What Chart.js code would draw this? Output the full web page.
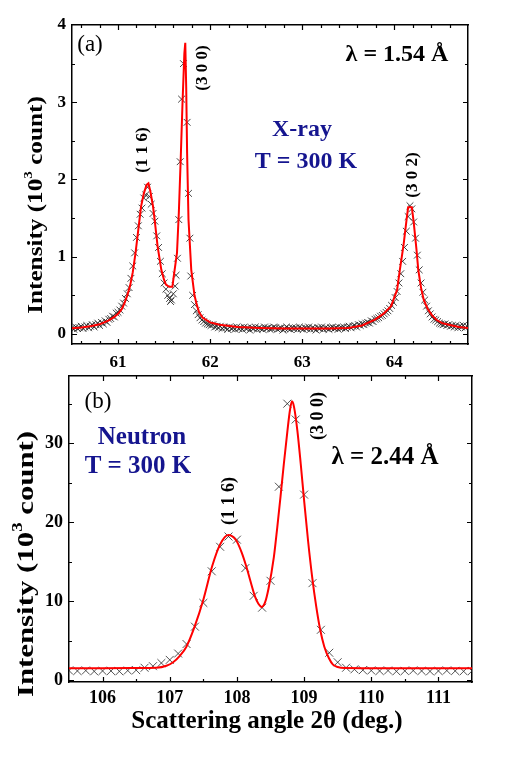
<!DOCTYPE html>
<html>
<head>
<meta charset="utf-8">
<script src="https://cdn.jsdelivr.net/npm/chart.js@4.4.1/dist/chart.umd.min.js"></script>
<style>
  html, body { margin: 0; padding: 0; background: #fff; }
  #wrap { position: relative; width: 507px; height: 769px; }
  #wrap canvas { position: absolute; left: 0; top: 0; }
</style>
</head>
<body>
<div id="wrap">
  <canvas id="neutronChart" width="507" height="769"></canvas>
  <canvas id="xrayChart" width="507" height="769"></canvas>
</div>
<script>
// ---- (a) X-ray data, 2theta in degrees, intensity in 10^3 counts ----
const xrayAngle = [
  60.50,60.52,60.54,60.56,60.58,60.60,60.62,60.64,60.66,60.68,
  60.70,60.72,60.74,60.76,60.78,60.80,60.82,60.84,60.86,60.88,
  60.90,60.92,60.94,60.96,60.98,61.00,61.02,61.04,61.06,61.08,
  61.10,61.12,61.14,61.16,61.18,61.20,61.22,61.24,61.26,61.28,
  61.30,61.32,61.34,61.36,61.38,61.40,61.42,61.44,61.46,61.48,
  61.50,61.52,61.54,61.56,61.57,61.58,61.60,61.62,61.63,61.645,
  61.66,61.675,61.69,61.71,61.75,61.765,61.78,61.79,61.81,61.83,
  61.85,61.87,61.89,61.91,61.93,61.95,61.97,61.99,62.01,62.03,
  62.05,62.07,62.09,62.11,62.13,62.15,62.17,62.19,62.21,62.23,
  62.25,62.27,62.29,62.31,62.33,62.35,62.37,62.39,62.41,62.43,
  62.45,62.47,62.49,62.51,62.53,62.55,62.57,62.59,62.61,62.63,
  62.65,62.67,62.69,62.71,62.73,62.75,62.77,62.79,62.81,62.83,
  62.85,62.87,62.89,62.91,62.93,62.95,62.97,62.99,63.01,63.03,
  63.05,63.07,63.09,63.11,63.13,63.15,63.17,63.19,63.21,63.23,
  63.25,63.27,63.29,63.31,63.33,63.35,63.37,63.39,63.41,63.43,
  63.45,63.47,63.49,63.51,63.53,63.55,63.57,63.59,63.61,63.63,
  63.65,63.67,63.69,63.71,63.73,63.75,63.77,63.79,63.81,63.83,
  63.85,63.87,63.89,63.91,63.93,63.95,63.97,63.99,64.01,64.03,
  64.05,64.07,64.09,64.11,64.13,64.15,64.17,64.19,64.21,64.23,
  64.25,64.27,64.29,64.31,64.33,64.35,64.37,64.39,64.41,64.43,
  64.45,64.47,64.49,64.51,64.53,64.55,64.57,64.59,64.61,64.63,
  64.65,64.67,64.69,64.71,64.73,64.75,64.77,64.79
];
const xrayCount = [
  0.08,0.06,0.09,0.07,0.08,0.10,0.07,0.09,0.11,0.08,
  0.10,0.12,0.09,0.12,0.14,0.11,0.15,0.13,0.17,0.15,
  0.19,0.20,0.23,0.22,0.27,0.28,0.31,0.36,0.40,0.46,
  0.52,0.60,0.72,0.88,1.05,1.25,1.40,1.55,1.63,1.76,
  1.80,1.90,1.78,1.68,1.56,1.46,1.27,1.12,0.94,0.78,
  0.66,0.58,0.50,0.46,0.42,0.44,0.52,0.62,0.76,0.98,
  1.48,2.23,3.04,3.50,2.74,1.82,1.24,0.75,0.50,0.38,
  0.30,0.25,0.21,0.18,0.16,0.14,0.13,0.12,0.11,0.12,
  0.09,0.10,0.08,0.10,0.07,0.09,0.08,0.06,0.09,0.07,
  0.08,0.06,0.09,0.07,0.08,0.06,0.09,0.07,0.08,0.05,
  0.08,0.07,0.09,0.06,0.08,0.07,0.06,0.09,0.07,0.08,
  0.06,0.07,0.09,0.08,0.06,0.07,0.08,0.05,0.07,0.09,
  0.07,0.06,0.08,0.07,0.08,0.06,0.09,0.07,0.06,0.08,
  0.07,0.09,0.06,0.08,0.07,0.05,0.08,0.07,0.09,0.06,
  0.08,0.07,0.06,0.08,0.09,0.07,0.08,0.06,0.08,0.08,
  0.09,0.07,0.09,0.10,0.08,0.10,0.11,0.09,0.12,0.11,
  0.13,0.12,0.14,0.15,0.14,0.17,0.16,0.19,0.20,0.21,
  0.23,0.24,0.26,0.28,0.30,0.33,0.37,0.41,0.47,0.55,
  0.66,0.78,0.94,1.12,1.33,1.52,1.66,1.62,1.45,1.24,
  1.02,0.83,0.66,0.54,0.44,0.36,0.30,0.26,0.22,0.19,
  0.18,0.16,0.14,0.13,0.12,0.13,0.11,0.12,0.10,0.11,
  0.09,0.11,0.08,0.10,0.09,0.11,0.08,0.10
];
const xrayFitAngle = [
  60.50,60.60,60.70,60.80,60.90,60.96,61.00,61.04,61.07,61.10,
  61.13,61.16,61.19,61.22,61.25,61.28,61.31,61.33,61.35,61.38,
  61.40,61.43,61.47,61.50,61.52,61.555,61.59,61.61,61.64,61.66,
  61.68,61.70,61.72,61.73,61.74,61.75,61.765,61.795,61.83,61.85,
  61.88,61.92,62.00,62.10,62.30,62.53,62.80,63.10,63.30,63.50,
  63.65,63.79,63.88,63.965,64.03,64.06,64.10,64.13,64.15,64.19,
  64.21,64.24,64.26,64.29,64.32,64.36,64.41,64.46,64.52,64.59,
  64.70,64.80
];
const xrayFitCount = [
  0.075,0.085,0.10,0.125,0.175,0.22,0.26,0.32,0.40,0.50,
  0.62,0.80,1.05,1.35,1.65,1.82,1.93,1.95,1.85,1.65,
  1.45,1.13,0.83,0.70,0.64,0.61,0.61,0.79,1.05,1.57,
  2.25,2.99,3.63,3.77,3.20,2.34,1.48,0.83,0.50,0.40,
  0.28,0.21,0.15,0.12,0.09,0.078,0.07,0.07,0.072,0.078,
  0.11,0.185,0.26,0.36,0.57,0.83,1.15,1.45,1.64,1.64,
  1.45,1.10,0.83,0.60,0.44,0.33,0.24,0.18,0.14,0.12,
  0.09,0.078
];
const xrayXTicks = [61, 62, 63, 64];
const xrayYTicks = [0, 1, 2, 3, 4];

// ---- (b) Neutron data ----
const neutronAngle = [
  105.5,105.625,105.75,105.875,106.0,106.125,106.25,106.375,106.5,106.625,
  106.75,106.875,107.0,107.125,107.25,107.375,107.5,107.625,107.75,107.875,
  108.0,108.125,108.25,108.375,108.5,108.625,108.75,108.875,109.0,109.125,
  109.25,109.375,109.5,109.625,109.75,109.875,110.0,110.125,110.25,110.375,
  110.5,110.625,110.75,110.875,111.0,111.125,111.25,111.375,111.5
];
const neutronCount = [
  1.25,1.2,1.25,1.15,1.2,1.2,1.15,1.25,1.3,1.6,
  1.8,2.2,2.6,3.4,4.6,6.8,9.8,13.8,16.9,18.2,
  17.8,14.2,10.7,9.2,12.6,24.5,35.0,33.0,23.5,12.3,
  6.4,3.5,2.3,1.6,1.4,1.3,1.25,1.2,1.25,1.15,
  1.2,1.25,1.2,1.15,1.2,1.25,1.2,1.15,1.2
];
const neutronFitAngle = [
  105.5,106.0,106.5,106.8,106.95,107.05,107.15,107.25,107.37,107.5,
  107.63,107.75,107.87,107.99,108.07,108.14,108.2,108.27,108.32,108.37,
  108.42,108.47,108.55,108.6,108.65,108.7,108.75,108.79,108.82,108.85,
  108.9,108.95,109.0,109.06,109.12,109.18,109.24,109.3,109.37,109.43,
  109.5,109.6,110.0,110.5,111.0,111.5
];
const neutronFitCount = [
  1.55,1.55,1.56,1.6,1.85,2.3,3.1,4.3,6.8,10.2,
  14.4,17.2,18.4,17.7,16.2,14.4,12.6,10.6,9.7,9.3,
  9.9,11.6,15.6,19.3,23.3,27.5,31.4,34.2,35.3,34.6,
  31.6,27.4,22.8,17.6,13.1,9.4,6.4,4.3,2.8,2.0,
  1.7,1.57,1.55,1.55,1.55,1.55
];
const neutronXTicks = [106, 107, 108, 109, 110, 111];
const neutronYTicks = [0, 10, 20, 30];

// ---- drawing helpers ----
const SERIF = "'Liberation Serif', 'Times New Roman', serif";
const NAVY = '#15158f';
Chart.defaults.font.family = SERIF;
Chart.defaults.color = '#000';

const pairs = (xs, ys) => xs.map((x, i) => ({ x, y: ys[i] }));

function minorTicks(min, max, step, majors) {
  const out = [];
  for (let v = Math.ceil(min / step) * step; v <= max + 1e-9; v += step) {
    const r = Math.round(v * 1000) / 1000;
    if (!majors.some(m => Math.abs(m - r) < 1e-6)) out.push(r);
  }
  return out;
}

// inward ticks on all four sides (Origin style)
const inwardTicks = {
  id: 'inwardTicks',
  afterDraw(chart, args, o) {
    const { ctx, chartArea: a, scales } = chart;
    ctx.save();
    ctx.strokeStyle = '#000';
    ctx.lineWidth = 1.2;
    const tx = (vals, len) => vals.forEach(v => {
      const p = Math.round(scales.x.getPixelForValue(v)) + 0.5;
      if (p < a.left + 1 || p > a.right - 1) return;
      ctx.beginPath();
      ctx.moveTo(p, a.bottom); ctx.lineTo(p, a.bottom - len);
      ctx.moveTo(p, a.top); ctx.lineTo(p, a.top + len);
      ctx.stroke();
    });
    const ty = (vals, len) => vals.forEach(v => {
      const p = Math.round(scales.y.getPixelForValue(v)) + 0.5;
      if (p < a.top + 1 || p > a.bottom - 1) return;
      ctx.beginPath();
      ctx.moveTo(a.left, p); ctx.lineTo(a.left + len, p);
      ctx.moveTo(a.right, p); ctx.lineTo(a.right - len, p);
      ctx.stroke();
    });
    tx(o.xMajor, 5); tx(o.xMinor, 3);
    ty(o.yMajor, 5); ty(o.yMinor, 3);
    ctx.restore();
  }
};

// text made of runs (for the superscript), optionally rotated and stretched
function drawParts(ctx, parts, cx, cy, rot, stretch) {
  ctx.save();
  ctx.translate(cx, cy);
  ctx.rotate(rot || 0);
  ctx.scale(stretch || 1, 1);
  ctx.textBaseline = 'middle';
  ctx.textAlign = 'left';
  let total = 0;
  parts.forEach(p => { ctx.font = p.font; p.w = ctx.measureText(p.text).width; total += p.w; });
  let x = -total / 2;
  parts.forEach(p => {
    ctx.font = p.font;
    ctx.fillStyle = p.color || '#000';
    ctx.fillText(p.text, x, p.dy || 0);
    x += p.w;
  });
  ctx.restore();
}

// free text labels, page pixel positions
const labels = {
  id: 'labels',
  afterDraw(chart, args, o) {
    o.items.forEach(it => drawParts(chart.ctx, it.parts, it.x, it.y, it.rot, it.stretch));
  }
};

function yTitle(size) {
  const f = `bold ${size}px ${SERIF}`;
  const s = `bold ${Math.round(size * 0.62)}px ${SERIF}`;
  return [
    { text: 'Intensity (10', font: f },
    { text: '3', font: s, dy: -size * 0.38 },
    { text: ' count)', font: f }
  ];
}
const one = (text, size, color, weight) =>
  [{ text, font: `${weight || 'bold'} ${size}px ${SERIF}`, color: color || '#000' }];

const UP = -Math.PI / 2;

function makeOptions(cfg) {
  const fixed = (prop, val) => (s) => { s[prop] = val; };
  const setTicks = (vals) => (s) => { s.ticks = vals.map(v => ({ value: v })); };
  const tickFont = { family: SERIF, size: cfg.tickSize, weight: 'bold' };
  const border = { display: true, color: '#000', width: 1.5 };
  const grid = { display: false, drawTicks: false };
  return {
    responsive: false,
    animation: false,
    layout: { padding: 0 },
    plugins: {
      legend: { display: false },
      tooltip: { enabled: false },
      inwardTicks: {
        xMajor: cfg.xTicks, yMajor: cfg.yTicks,
        xMinor: minorTicks(cfg.xMin, cfg.xMax, cfg.xMinorStep, cfg.xTicks),
        yMinor: minorTicks(cfg.yMin, cfg.yMax, cfg.yMinorStep, cfg.yTicks)
      },
      labels: { items: cfg.labels }
    },
    scales: {
      x: {
        type: 'linear', position: 'bottom', min: cfg.xMin, max: cfg.xMax,
        grid, border,
        afterBuildTicks: setTicks(cfg.xTicks),
        afterFit: fixed('height', 769 - cfg.area.bottom),
        ticks: { font: tickFont, padding: cfg.xPad, maxRotation: 0, autoSkip: false,
                 callback: (v) => String(v) }
      },
      x2: {
        type: 'linear', position: 'top', min: cfg.xMin, max: cfg.xMax,
        grid, border, ticks: { display: false },
        afterFit: fixed('height', cfg.area.top)
      },
      y: {
        type: 'linear', position: 'left', min: cfg.yMin, max: cfg.yMax,
        grid, border,
        afterBuildTicks: setTicks(cfg.yTicks),
        afterFit: fixed('width', cfg.area.left),
        ticks: { font: tickFont, padding: 6, autoSkip: false, callback: (v) => String(v) }
      },
      y2: {
        type: 'linear', position: 'right', min: cfg.yMin, max: cfg.yMax,
        grid, border, ticks: { display: false },
        afterFit: fixed('width', 507 - cfg.area.right)
      }
    }
  };
}

// ---- (a) X-ray panel ----
new Chart(document.getElementById('xrayChart'), {
  type: 'scatter',
  data: {
    datasets: [
      {
        data: pairs(xrayFitAngle, xrayFitCount),
        showLine: true, borderColor: '#ff0000', borderWidth: 2,
        pointRadius: 0, tension: 0, order: 0
      },
      {
        data: pairs(xrayAngle, xrayCount),
        pointStyle: 'crossRot', pointRadius: 4.8, borderWidth: 1,
        borderColor: 'rgba(35,35,35,0.85)', backgroundColor: 'transparent',
        showLine: false, order: 1
      }
    ]
  },
  options: makeOptions({
    xMin: 60.5, xMax: 64.8, yMin: -0.13, yMax: 4,
    xTicks: xrayXTicks, yTicks: xrayYTicks, xMinorStep: 0.2, yMinorStep: 0.5,
    area: { left: 72, right: 468, top: 25, bottom: 344 },
    tickSize: 17, xPad: 8,
    labels: [
      { parts: yTitle(20), x: 37, y: 205, rot: UP, stretch: 1.26 },
      { parts: one('(a)', 23, '#000', 'normal'), x: 90, y: 45 },
      { parts: one('λ = 1.54 Å', 24), x: 397, y: 55 },
      { parts: one('X-ray', 24, NAVY), x: 302, y: 130 },
      { parts: one('T = 300 K', 24, NAVY), x: 306, y: 162 },
      { parts: one('(1 1 6)', 17), x: 143, y: 150, rot: UP },
      { parts: one('(3 0 0)', 17), x: 203, y: 68, rot: UP },
      { parts: one('(3 0 2)', 17), x: 413, y: 175, rot: UP }
    ]
  }),
  plugins: [inwardTicks, labels]
});

// ---- (b) Neutron panel ----
new Chart(document.getElementById('neutronChart'), {
  type: 'scatter',
  data: {
    datasets: [
      {
        data: pairs(neutronFitAngle, neutronFitCount),
        showLine: true, borderColor: '#ff0000', borderWidth: 2,
        pointRadius: 0, cubicInterpolationMode: 'monotone', order: 0
      },
      {
        data: pairs(neutronAngle, neutronCount),
        pointStyle: 'crossRot', pointRadius: 5.6, borderWidth: 1,
        borderColor: 'rgba(40,40,40,0.8)', backgroundColor: 'transparent',
        showLine: false, order: 1
      }
    ]
  },
  options: makeOptions({
    xMin: 105.5, xMax: 111.5, yMin: -0.2, yMax: 38.5,
    xTicks: neutronXTicks, yTicks: neutronYTicks, xMinorStep: 0.5, yMinorStep: 5,
    area: { left: 69, right: 472, top: 376, bottom: 682 },
    tickSize: 18, xPad: 6,
    labels: [
      { parts: yTitle(23), x: 27, y: 564, rot: UP, stretch: 1.34 },
      { parts: one('Scattering angle 2θ (deg.)', 25), x: 267, y: 722 },
      { parts: one('(b)', 23, '#000', 'normal'), x: 98, y: 402 },
      { parts: one('Neutron', 25, NAVY), x: 142, y: 438 },
      { parts: one('T = 300 K', 25, NAVY), x: 138, y: 467 },
      { parts: one('λ = 2.44 Å', 25), x: 385, y: 458 },
      { parts: one('(1 1 6)', 18), x: 229, y: 501, rot: UP },
      { parts: one('(3 0 0)', 18), x: 318, y: 416, rot: UP }
    ]
  }),
  plugins: [inwardTicks, labels]
});
</script>
</body>
</html>
